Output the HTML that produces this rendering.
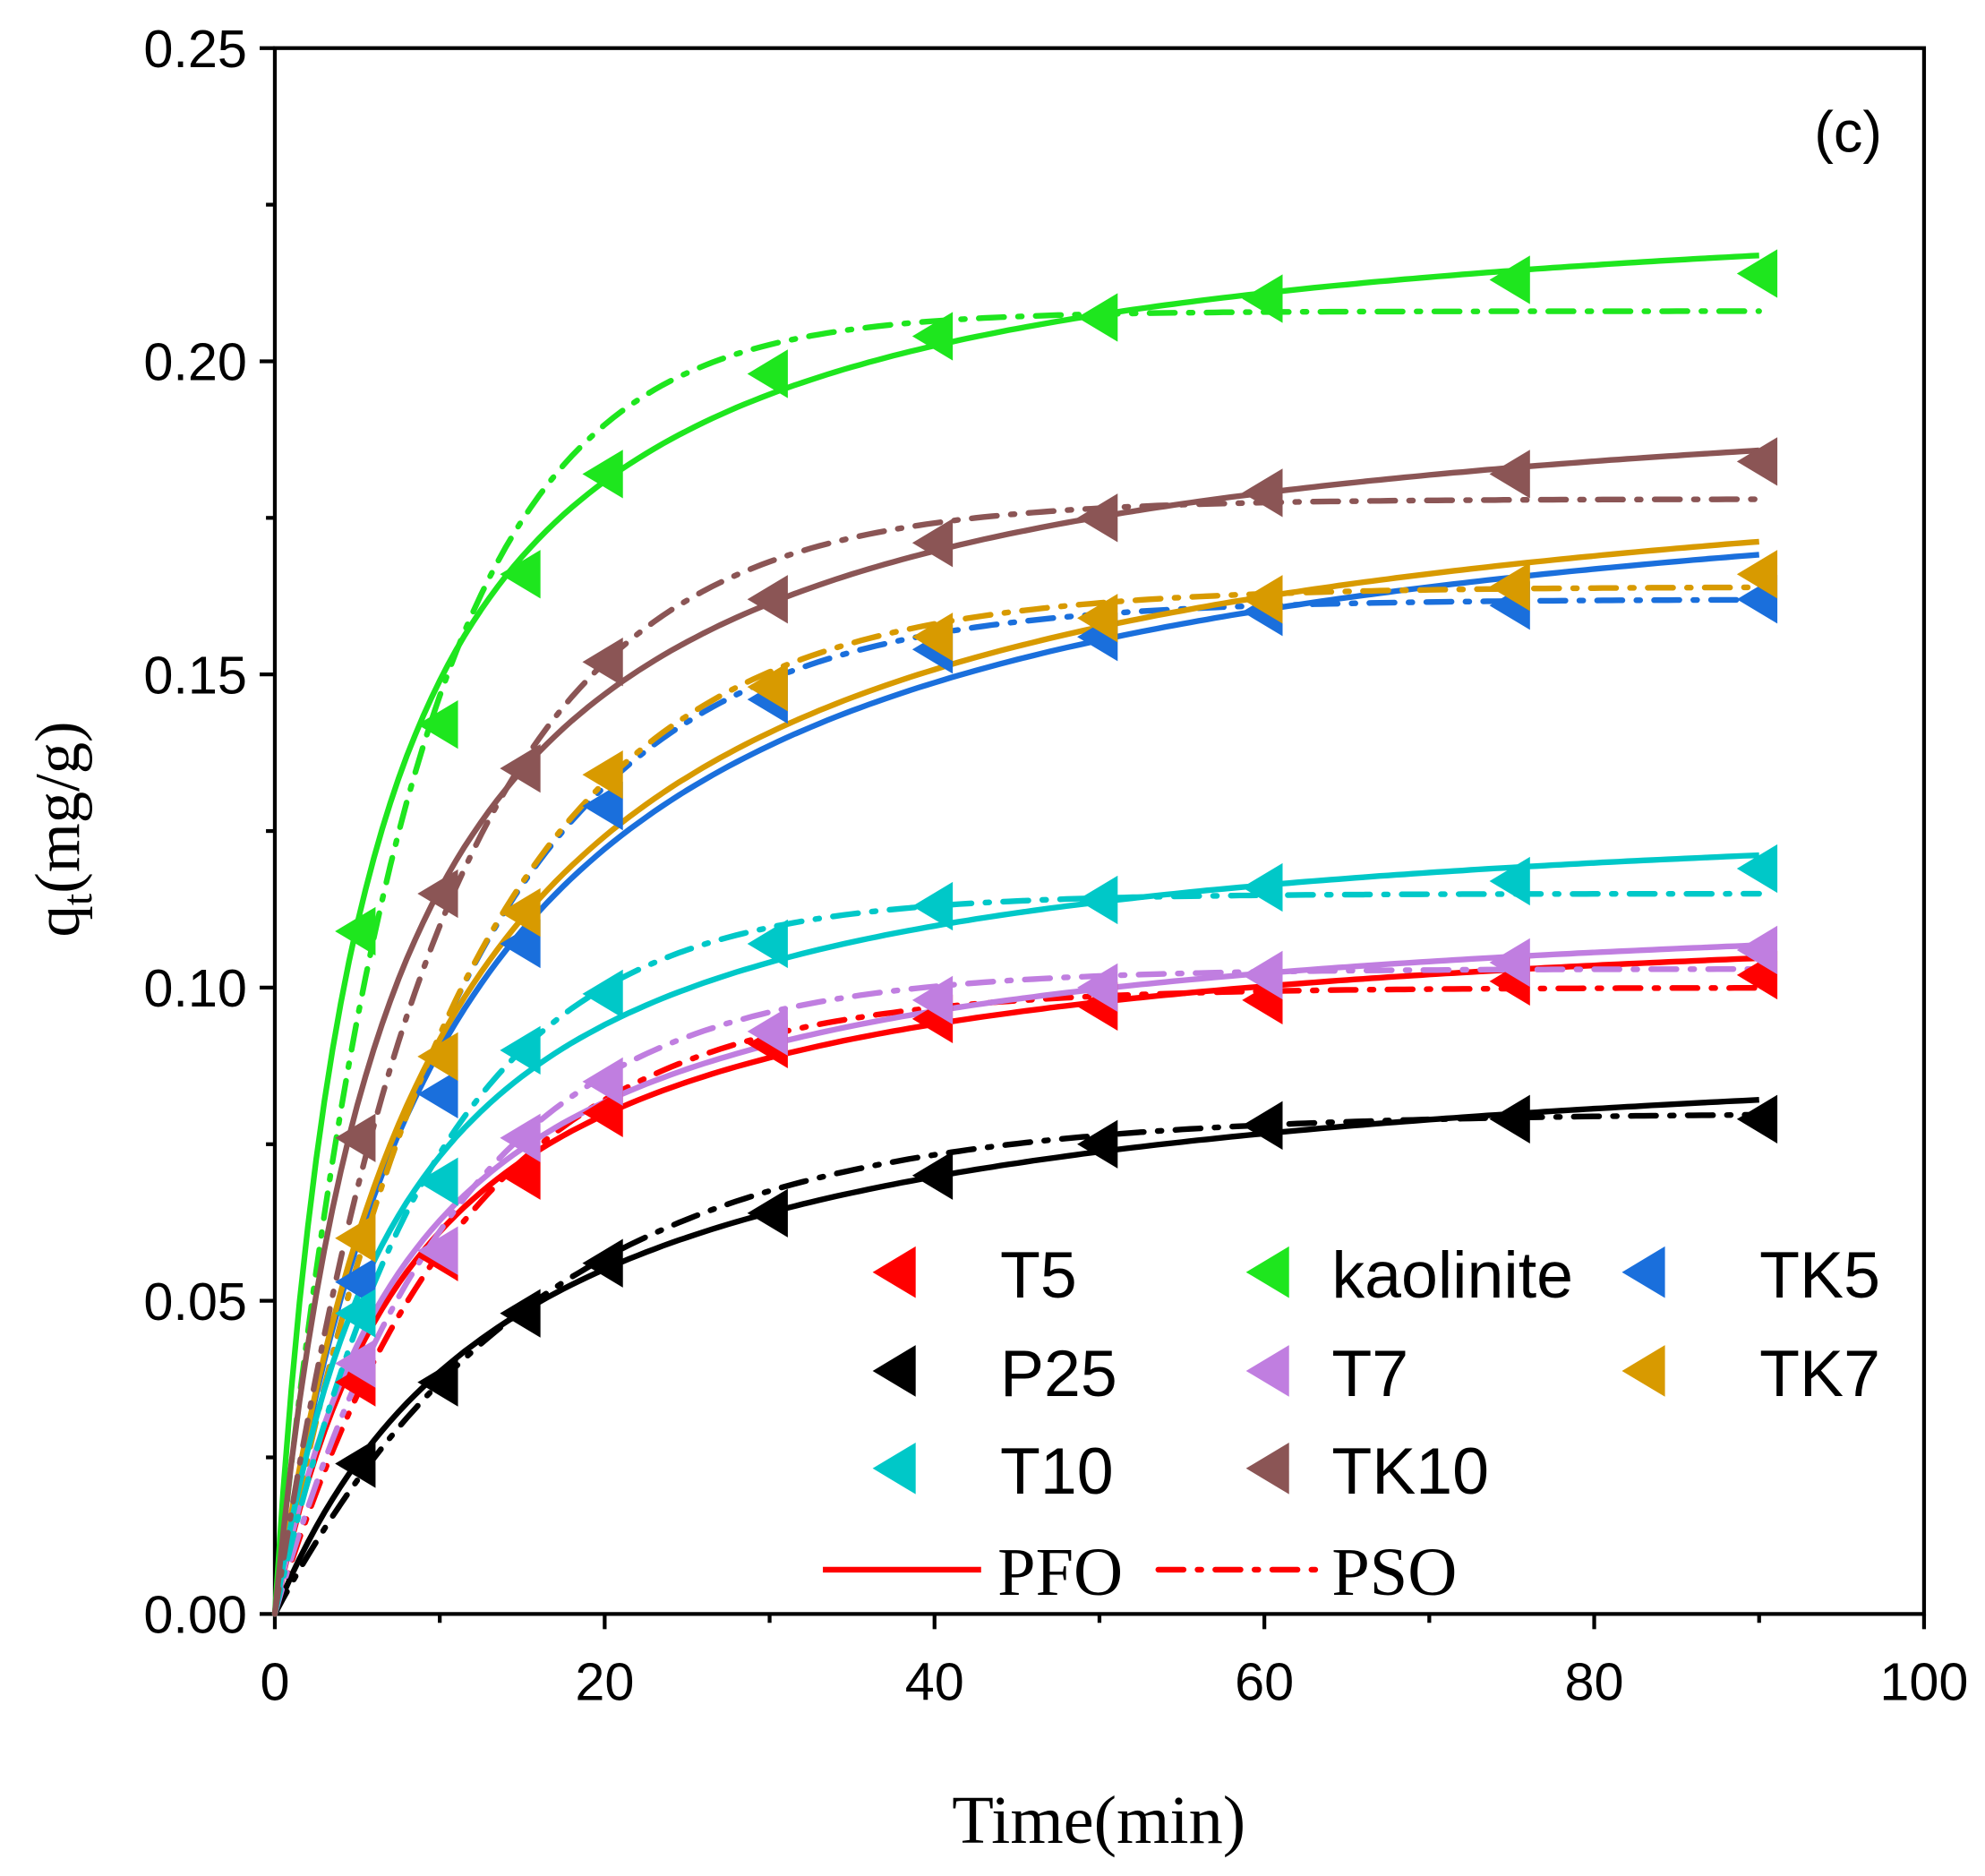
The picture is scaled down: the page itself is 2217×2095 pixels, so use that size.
<!DOCTYPE html>
<html><head><meta charset="utf-8"><style>
html,body{margin:0;padding:0;background:#fff;}
svg{display:block;}
</style></head><body>
<svg id="chart" width="2217" height="2095" viewBox="0 0 1568 1482" xmlns="http://www.w3.org/2000/svg">
<rect x="0" y="0" width="1568" height="1482" fill="#fff"/>
<g id="axes"></g>
<g id="curves"></g>
<g id="marks"></g>
<g id="legend"></g>
<text x="1460" y="120" font-family="Liberation Sans, sans-serif" font-size="46" text-anchor="middle">(c)</text>
<text x="868" y="1456" font-family="Liberation Serif, serif" font-size="54" text-anchor="middle">Time(min)</text>
<text transform="translate(62,655) rotate(-90)" font-family="Liberation Serif, serif" font-size="50" text-anchor="middle">q<tspan font-size="34" dy="10">t</tspan><tspan dy="-10">(mg/g)</tspan></text>
</svg>
<script>
const times=[5,10,15,20,30,40,50,60,75,90];
const seriesNames=["T5","kaolinite","TK5","P25","T7","TK7","T10","TK10"];
const seriesColors=["#ff0000","#1ee61e","#1a6fdc","#000000","#c07ee0","#d89a00","#00c8c8","#8b5555"];
const qT5=[0.037,0.057,0.070,0.080,0.091,0.095,0.097,0.098,0.101,0.102];
const qKao=[0.109,0.142,0.166,0.182,0.198,0.204,0.207,0.210,0.213,0.214];
const qTK5=[0.053,0.083,0.107,0.129,0.146,0.154,0.156,0.160,0.161,0.162];
const qP25=[0.024,0.037,0.048,0.056,0.064,0.070,0.075,0.078,0.079,0.079];
const qT7=[0.040,0.058,0.076,0.085,0.093,0.098,0.100,0.102,0.104,0.106];
const qTK7=[0.060,0.089,0.112,0.134,0.148,0.156,0.159,0.162,0.164,0.166];
const qT10=[0.048,0.069,0.090,0.099,0.107,0.113,0.114,0.116,0.117,0.119];
const qTK10=[0.076,0.115,0.135,0.152,0.162,0.171,0.175,0.179,0.182,0.184];
const solidQe=[0.115,0.230,0.190,0.0955,0.117,0.192,0.132,0.201];
const solidRate=[0.113,0.184,0.090,0.068,0.116,0.0915,0.124,0.1356];
const dashQe=[0.100,0.208,0.162,0.080,0.103,0.164,0.115,0.178];
const dashK=[0.086,0.122,0.0845,0.062,0.090,0.083,0.102,0.096];
const xTicks=[0,20,40,60,80,100];
const yTicks=[0,0.05,0.10,0.15,0.20,0.25];
const allQ=[qT5,qKao,qTK5,qP25,qT7,qTK7,qT10,qTK10];

const X0=217,X1=1520,Y0=1275,Y1=38;
const sx=v=>X0+(v-0)/(100-0)*(X1-X0);
const sy=v=>Y0-(v-0)/(0.25-0)*(Y0-Y1);
const NS="http://www.w3.org/2000/svg";
function mk(tag,attrs,parent){const e=document.createElementNS(NS,tag);for(const k in attrs)e.setAttribute(k,attrs[k]);parent.appendChild(e);return e;}
const axes=document.getElementById('axes');
const frame=mk('rect',{x:X0,y:Y1,width:X1-X0,height:Y0-Y1,fill:'none',stroke:'#000','stroke-width':3},axes);


for(let v=0;v<=100;v+=10){const major=v%20===0;const t=mk('line',{x1:sx(v),x2:sx(v),y1:Y0,y2:Y0+(major?12:7),stroke:'#000','stroke-width':3},axes);

}
xTicks.forEach(v=>{const t=mk('text',{x:sx(v),y:Y0+68,'font-family':'Liberation Sans, sans-serif','font-size':42,'text-anchor':'middle'},axes);t.textContent=String(v);

});
for(let i=0;i<=10;i++){const v=i*0.025;const major=i%2===0;const t=mk('line',{x1:X0-(major?12:7),x2:X0,y1:sy(v),y2:sy(v),stroke:'#000','stroke-width':3},axes);

}
yTicks.forEach(v=>{const t=mk('text',{x:X0-22,y:sy(v)+15,'font-family':'Liberation Sans, sans-serif','font-size':42,'text-anchor':'end'},axes);t.textContent=v.toFixed(2);

});

const curves=document.getElementById('curves');
const marks=document.getElementById('marks');
function tri(cx,cy,s){return `${cx-s*0.55},${cy} ${cx+s*0.45},${cy-s*0.6} ${cx+s*0.45},${cy+s*0.6}`;}
seriesNames.forEach((name,i)=>{
  let d1='',d2='';
  for(let t=0;t<=90;t+=0.5){
    const b=solidRate[i];const q1=solidQe[i]*b*t/(1+b*t);
    const q2=dashQe[i]*(1-Math.exp(-dashK[i]*t));
    d1+=(t===0?'M':'L')+sx(t).toFixed(1)+','+sy(q1).toFixed(1);
    d2+=(t===0?'M':'L')+sx(t).toFixed(1)+','+sy(q2).toFixed(1);
  }
  const p1=mk('path',{d:d1,fill:'none',stroke:seriesColors[i],'stroke-width':4.5},curves);
  
  
  const p2=mk('path',{d:d2,fill:'none',stroke:seriesColors[i],'stroke-width':4.5,'stroke-dasharray':'20,11,3,11','stroke-linecap':'round'},curves);
  
  
  allQ[i].forEach((q,j)=>{
    const m=mk('polygon',{points:tri(sx(times[j]),sy(q),32),fill:seriesColors[i]},marks);
    
    
  });
});

const legend=document.getElementById('legend');
const legPos=[[708,1005,790],[1003,1005,1052],[1300,1005,1390],[708,1083,790],[1003,1083,1052],[1300,1083,1390],[708,1160,790],[1003,1160,1052]];
const legOrder=[0,1,2,3,4,5,6,7];
legOrder.forEach((i,k)=>{
  const [mx,my,tx]=legPos[k];
  const m=mk('polygon',{points:tri(mx,my,34),fill:seriesColors[i]},legend);
  
  
  const t=mk('text',{x:tx,y:my+20,'font-family':'Liberation Sans, sans-serif','font-size':52},legend);
  t.textContent=seriesNames[i];
  
  
});
const l1=mk('line',{x1:650,x2:775,y1:1240,y2:1240,stroke:'#ff0000','stroke-width':4.5},legend);


const t1=mk('text',{x:788,y:1260,'font-family':'Liberation Serif, serif','font-size':54},legend);t1.textContent='PFO';


const l2=mk('line',{x1:915,x2:1040,y1:1240,y2:1240,stroke:'#ff0000','stroke-width':4.5,'stroke-dasharray':'20,11,3,11','stroke-linecap':'round'},legend);


const t2=mk('text',{x:1052,y:1260,'font-family':'Liberation Serif, serif','font-size':54},legend);t2.textContent='PSO';


</script>
</body></html>
